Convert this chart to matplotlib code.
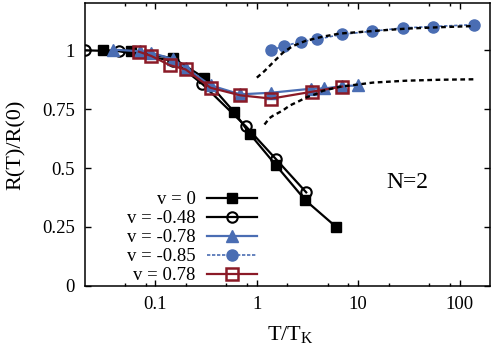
import matplotlib
matplotlib.use("Agg")
import matplotlib.pyplot as plt
from matplotlib.ticker import FixedLocator, NullFormatter

plt.rcParams['font.family'] = ['Liberation Serif', 'DejaVu Serif']
plt.rcParams['mathtext.fontset'] = 'custom'
plt.rcParams['mathtext.rm'] = 'Liberation Serif'
plt.rcParams['mathtext.it'] = 'Liberation Serif:italic'

BLUE = "#4a6db3"
RED = "#8b1a27"

# v = 0 (filled squares)
t_v0 = [0.03, 0.057, 0.15, 0.3, 0.6, 0.85, 1.53, 3.02, 6.07]
r_v0 = [1.0, 0.997, 0.966, 0.884, 0.737, 0.646, 0.514, 0.363, 0.25]

# v = -0.48 (open circles)
t_v048 = [0.02, 0.044, 0.15, 0.29, 0.78, 1.53, 3.07]
r_v048 = [1.0, 0.996, 0.955, 0.857, 0.677, 0.540, 0.397]

# v = -0.78 (triangles)
t_v078 = [0.038, 0.07, 0.091, 0.149, 0.198, 0.35, 0.686, 1.39, 3.44, 4.65, 6.95, 9.94]
r_v078 = [1.003, 0.996, 0.99, 0.962, 0.926, 0.851, 0.813, 0.82, 0.837, 0.838, 0.848, 0.851]

# v = -0.85 (filled circles)
t_v085 = [1.39, 1.85, 2.74, 3.94, 6.95, 13.8, 27.5, 55.3, 138]
r_v085 = [1.001, 1.018, 1.037, 1.047, 1.068, 1.081, 1.095, 1.101, 1.109]

# v = 0.78 (open squares)
t_vp078 = [0.0686, 0.091, 0.138, 0.198, 0.349, 0.686, 1.39, 3.48, 6.95]
r_vp078 = [0.994, 0.976, 0.937, 0.919, 0.841, 0.809, 0.795, 0.824, 0.846]

# dotted guide curves
t_fit_up = [1.0, 1.19, 1.44, 1.81, 2.26, 3.07, 4.48, 6.54, 14, 29.7, 63.4, 138]
r_fit_up = [0.884, 0.912, 0.948, 0.99, 1.018, 1.041, 1.058, 1.071, 1.082, 1.092, 1.098, 1.103]
t_fit_lo = [1.19, 1.33, 1.44, 1.81, 2.1, 2.63, 3.07, 3.85, 4.48, 6.54, 14, 29.7, 63.4, 138]
r_fit_lo = [0.685, 0.712, 0.722, 0.745, 0.765, 0.785, 0.800, 0.815, 0.828, 0.845, 0.863, 0.871, 0.875, 0.877]

fig = plt.figure(figsize=(4.98, 3.56), dpi=100)
ax = fig.add_axes([0.170, 0.197, 0.814, 0.794])

ax.plot(t_v0, r_v0, color="black", lw=1.6, marker="s", ms=7.5, label="v = 0")
ax.plot(t_v048, r_v048, color="black", lw=1.6, marker="o", ms=7.5, mfc="none",
        mew=1.5, label="v = -0.48")
ax.plot(t_v078, r_v078, color=BLUE, lw=1.6, marker="^", ms=9, label="v = -0.78")
ax.plot(t_v085, r_v085, color=BLUE, lw=1.2, ls=(0, (2, 1)), marker="o", ms=8,
        label="v = -0.85")
ax.plot(t_vp078, r_vp078, color=RED, lw=1.6, marker="s", ms=8, mfc="none",
        mew=1.8, label="v = 0.78")

ax.plot(t_fit_up, r_fit_up, color="black", lw=1.7, ls=(0, (2, 1.5)))
ax.plot(t_fit_lo, r_fit_lo, color="black", lw=1.7, ls=(0, (2, 1.5)))

ax.set_xscale("log")
ax.set_xlim(0.02, 200)
ax.set_ylim(0, 1.2)
ax.xaxis.set_major_locator(FixedLocator([0.1, 1, 10, 100]))
ax.set_xticklabels(["0.1", "1", "10", "100"])
ax.xaxis.set_minor_locator(FixedLocator([0.05, 0.08, 0.2, 0.5, 0.8, 2, 5, 8, 20, 50, 80]))
ax.xaxis.set_minor_formatter(NullFormatter())
ax.set_yticks([0, 0.25, 0.5, 0.75, 1])
ax.set_yticklabels(["0", "0.25", "0.5", "0.75", "1"])
ax.tick_params(which="both", direction="in", top=True, right=True, labelsize=13.5, width=1)
ax.tick_params(which="major", length=4, pad=7)
ax.tick_params(which="minor", length=2.5)
for s in ax.spines.values():
    s.set_linewidth(1.1)

ax.set_ylabel("R(T)/R(0)", fontsize=16)
ax.yaxis.set_label_coords(-0.145, 0.5)
ax.set_xlabel(r"T/T$_\mathrm{K}$", fontsize=16)
ax.xaxis.set_label_coords(0.507, -0.135)

ax.text(0.795, 0.364, "N=2", transform=ax.transAxes, fontsize=17,
        ha="center", va="center")

ax.legend(loc="lower right", bbox_to_anchor=(0.425, 0.006), frameon=False,
          markerfirst=False, fontsize=13.5, handlelength=2.67, handletextpad=0.59,
          labelspacing=0.1, borderpad=0, borderaxespad=0)

fig.savefig("out.png", dpi=100)
